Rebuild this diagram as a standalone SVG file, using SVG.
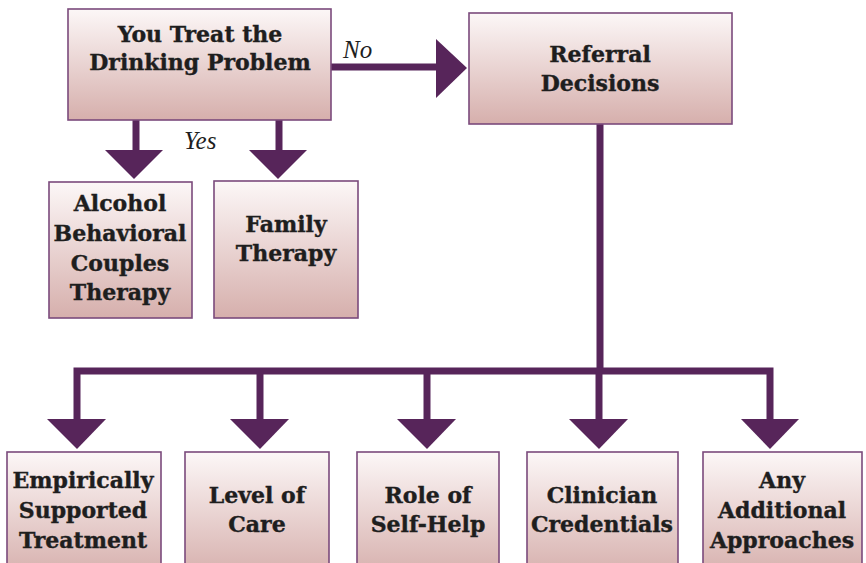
<svg xmlns="http://www.w3.org/2000/svg" width="866" height="563" viewBox="0 0 866 563">
<defs>
<linearGradient id="g" x1="0" y1="0" x2="0" y2="1">
<stop offset="0" stop-color="#fcf7f7"/>
<stop offset="1" stop-color="#d6afac"/>
</linearGradient>
<style>
.box{fill:url(#g);stroke:#7b4a7c;stroke-width:1.6}
.t{font-family:"DejaVu Serif","Liberation Serif",serif;font-weight:bold;font-size:22px;fill:#1e1e1e;text-anchor:middle;stroke:#1e1e1e;stroke-width:0.4}
.lbl{font-family:"Liberation Serif","DejaVu Serif",serif;font-style:italic;font-size:25px;fill:#1e1e1e}
.ln{stroke:#57255a;stroke-width:7;fill:none}
.ah{fill:#57255a}
</style>
</defs>
<rect width="866" height="563" fill="#ffffff"/>
<g id="connectors">
<line class="ln" x1="331" y1="67" x2="438" y2="67"/>
<polygon class="ah" points="436,39 467,68 436,98"/>
<line class="ln" x1="136" y1="120" x2="136" y2="152"/>
<polygon class="ah" points="105,150 163,150 134,179"/>
<line class="ln" x1="279" y1="120" x2="279" y2="152"/>
<polygon class="ah" points="249,150 307,150 278,179"/>
<line class="ln" x1="600" y1="124" x2="600" y2="371"/>
<polyline class="ln" points="77,421 77,371 770,371 770,421"/>
<line class="ln" x1="260" y1="371" x2="260" y2="421"/>
<line class="ln" x1="427" y1="371" x2="427" y2="421"/>
<line class="ln" x1="599" y1="371" x2="599" y2="421"/>
<polygon class="ah" points="47,419 106,419 77,449"/>
<polygon class="ah" points="230,419 289,419 260,449"/>
<polygon class="ah" points="397,419 456,419 427,449"/>
<polygon class="ah" points="569,419 628,419 599,449"/>
<polygon class="ah" points="741,419 799,419 770,449"/>
<text class="lbl" x="343" y="58">No</text>
<text class="lbl" x="184" y="149">Yes</text>
</g>
<g id="treat">
<rect class="box" x="68" y="9" width="263" height="111"/>
<text class="t" x="200" y="42">You Treat the</text>
<text class="t" x="200" y="70">Drinking Problem</text>
</g>
<g id="referral">
<rect class="box" x="469" y="13" width="263" height="111"/>
<text class="t" x="600" y="62">Referral</text>
<text class="t" x="600" y="91">Decisions</text>
</g>
<g id="abct">
<rect class="box" x="49" y="182" width="143" height="136"/>
<text class="t" x="120" y="211">Alcohol</text>
<text class="t" x="120" y="241">Behavioral</text>
<text class="t" x="120" y="271">Couples</text>
<text class="t" x="120" y="300">Therapy</text>
</g>
<g id="family">
<rect class="box" x="214" y="181" width="144" height="137"/>
<text class="t" x="286" y="232">Family</text>
<text class="t" x="286" y="261">Therapy</text>
</g>
<g id="empirical">
<rect class="box" x="7" y="452" width="154" height="125"/>
<text class="t" x="83" y="488">Empirically</text>
<text class="t" x="83" y="518">Supported</text>
<text class="t" x="83" y="548">Treatment</text>
</g>
<g id="level">
<rect class="box" x="185" y="452" width="144" height="125"/>
<text class="t" x="257" y="503">Level of</text>
<text class="t" x="257" y="532">Care</text>
</g>
<g id="selfhelp">
<rect class="box" x="357" y="452" width="142" height="125"/>
<text class="t" x="428" y="503">Role of</text>
<text class="t" x="428" y="532">Self-Help</text>
</g>
<g id="clinician">
<rect class="box" x="527" y="452" width="151" height="125"/>
<text class="t" x="602" y="503">Clinician</text>
<text class="t" x="602" y="532">Credentials</text>
</g>
<g id="additional">
<rect class="box" x="703" y="452" width="159" height="125"/>
<text class="t" x="782" y="488">Any</text>
<text class="t" x="782" y="518">Additional</text>
<text class="t" x="782" y="548">Approaches</text>
</g>
</svg>
